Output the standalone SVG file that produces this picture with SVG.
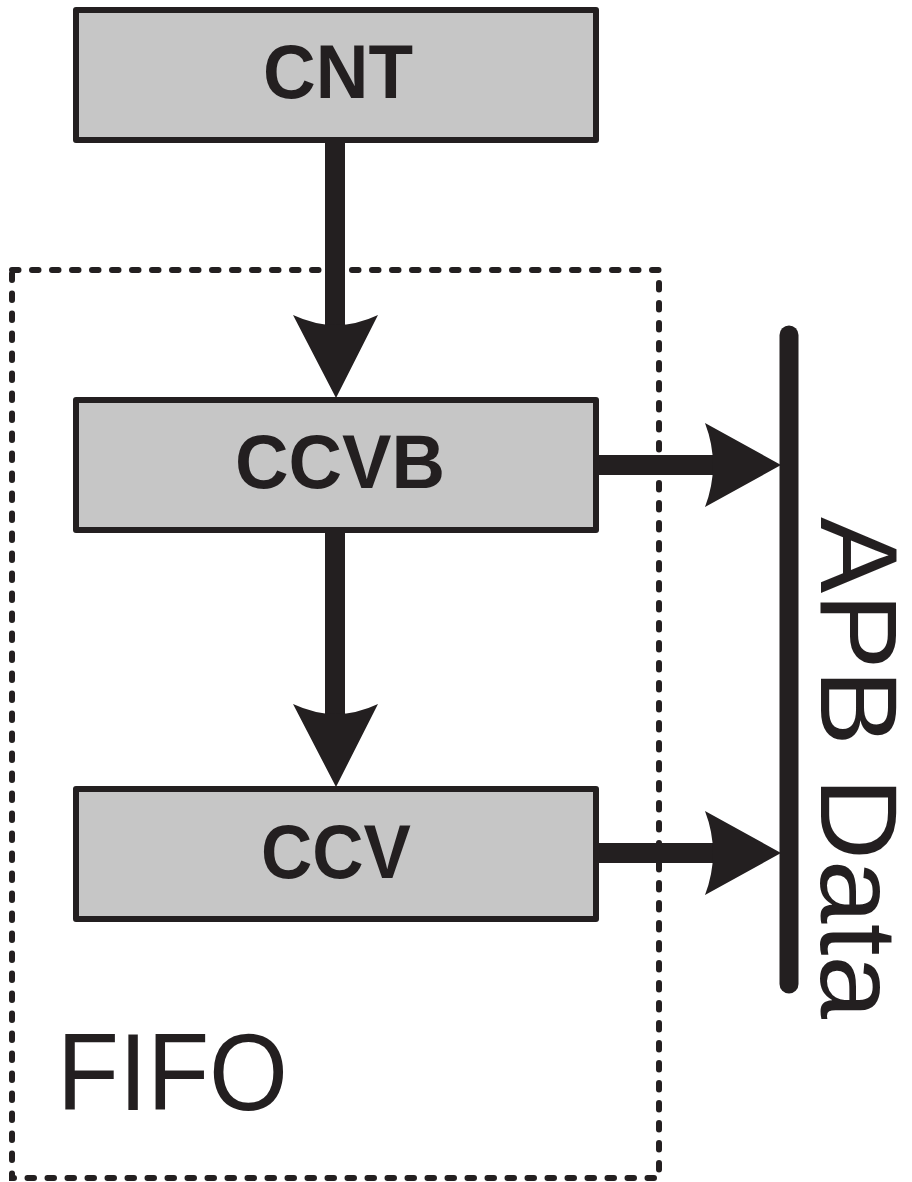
<svg xmlns="http://www.w3.org/2000/svg" width="912" height="1182" viewBox="0 0 912 1182">
<style>
.box{fill:#c6c6c6;stroke:#231f20;stroke-width:6;stroke-linejoin:round}
.lbl{font-family:"Liberation Sans",Arial,sans-serif;font-weight:bold;font-size:76px;fill:#231f20;text-anchor:middle}
.big{font-family:"Liberation Sans",Arial,sans-serif;font-size:109px;fill:#231f20}
.shaft{stroke:#231f20;stroke-width:20;fill:none}
.head{fill:#231f20}
</style>
<rect width="912" height="1182" fill="#ffffff"/>
<g id="fifo">
<rect x="12" y="270" width="647" height="908" fill="none" stroke="#231f20" stroke-width="6" stroke-dasharray="6.5 13.5" stroke-linecap="round"/>
<text class="big" x="57" y="1110" textLength="231" lengthAdjust="spacingAndGlyphs">FIFO</text>
</g>
<g id="cnt">
<rect class="box" x="76" y="10" width="520" height="130"/>
<text class="lbl" x="338" y="98" textLength="150" lengthAdjust="spacingAndGlyphs">CNT</text>
</g>
<g id="ccvb">
<rect class="box" x="76" y="400" width="520" height="130"/>
<text class="lbl" x="340" y="488" textLength="210" lengthAdjust="spacingAndGlyphs">CCVB</text>
</g>
<g id="ccv">
<rect class="box" x="76" y="789" width="520" height="130"/>
<text class="lbl" x="336" y="878" textLength="150" lengthAdjust="spacingAndGlyphs">CCV</text>
</g>
<g id="apb">
<line x1="789" y1="335" x2="789" y2="984" stroke="#231f20" stroke-width="19" stroke-linecap="round"/>
<text class="big" transform="translate(821,517) rotate(90)" x="0" y="0" textLength="502" lengthAdjust="spacingAndGlyphs">APB Data</text>
</g>
<g id="connectors">
<line class="shaft" x1="335" y1="143" x2="335" y2="330"/>
<path class="head" d="M293,315 L336,398 L378,315 Q336,335 293,315 Z"/>
<line class="shaft" x1="335" y1="533" x2="335" y2="720"/>
<path class="head" d="M293,704 L336,787 L378,704 Q336,724 293,704 Z"/>
<line class="shaft" x1="598" y1="465" x2="715" y2="465"/>
<path class="head" d="M705,423 L781,465 L705,507 Q721,465 705,423 Z"/>
<line class="shaft" x1="598" y1="853" x2="715" y2="853"/>
<path class="head" d="M705,811 L781,853 L705,895 Q721,853 705,811 Z"/>
</g>
</svg>
